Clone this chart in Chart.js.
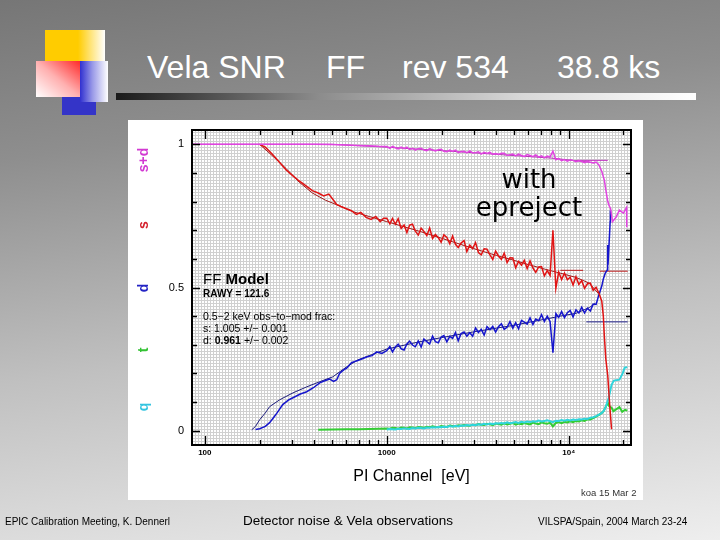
<!DOCTYPE html>
<html>
<head>
<meta charset="utf-8">
<script src="https://cdn.jsdelivr.net/npm/chart.js@4.4.1/dist/chart.umd.min.js"></script>
<style>
  body { margin: 0; width: 720px; height: 540px; overflow: hidden; position: relative;
    background: linear-gradient(172deg, #767676 0%, #8e8e8e 25%, #c0c0c0 60%, #eeeeee 100%);
    font-family: "Liberation Sans", Arial, sans-serif; }
  .abs { position: absolute; white-space: nowrap; line-height: 1; }
  .title { color: #fff; font-size: 32px; top: 51px; }
  .panel { position: absolute; left: 128px; top: 120px; width: 515px; height: 380px; background: #fff; }
  canvas { position: absolute; left: 0; top: 0; }
  .over { z-index: 2; }
  .rot { position: absolute; font-size: 14px; font-weight: bold; line-height: 1;
    transform: translate(-50%, -50%) rotate(-90deg); }
  .foot { font-size: 10px; color: #000; top: 517px; }
</style>
</head>
<body>
<!-- decoration -->
<div class="abs" style="left:62px;top:97px;width:34px;height:18px;background:#3434c8"></div>
<div class="abs" style="left:45px;top:30px;width:60px;height:32px;background:linear-gradient(to right,#ffcc00 0%,#ffcc00 55%,#ffffff 100%)"></div>
<div class="abs" style="left:36px;top:61px;width:44px;height:36px;background:linear-gradient(to bottom left,#ff2a2a 0%,#ffb0b0 50%,#ffffff 100%)"></div>
<div class="abs" style="left:80px;top:61px;width:28px;height:41px;background:linear-gradient(to right,#3030d0 0%,#9a9ae8 45%,#ffffff 100%)"></div>
<div class="abs" style="left:116px;top:93px;width:580px;height:7px;background:linear-gradient(to right,#1a1a1a 0%,#8c8c8c 35%,#d8d8d8 70%,#ffffff 100%)"></div>

<div class="abs title" style="left:147px">Vela SNR</div>
<div class="abs title" style="left:326px">FF</div>
<div class="abs title" style="left:402px">rev 534</div>
<div class="abs title" style="left:557px">38.8 ks</div>

<div class="panel"></div>

<canvas id="c" width="720" height="540"></canvas>

<!-- texts over the plot -->
<div class="rot over" style="left:143px;top:160px;color:#d23ad2">s+d</div>
<div class="rot over" style="left:143px;top:225px;color:#d4202c">s</div>
<div class="rot over" style="left:143px;top:288px;color:#2424c4">d</div>
<div class="rot over" style="left:143px;top:350px;color:#34c234">t</div>
<div class="rot over" style="left:143px;top:407px;color:#34c4e0">q</div>

<div class="abs over" style="left:473px;top:166px;width:112px;text-align:center;font-family:'DejaVu Sans';font-size:26px">with</div>
<div class="abs over" style="left:469px;top:194px;width:120px;text-align:center;font-family:'DejaVu Sans';font-size:26px">epreject</div>

<div class="abs over" style="left:203px;top:271px;font-size:15px">FF <b>Model</b></div>
<div class="abs over" style="left:203px;top:289px;font-size:10px;font-weight:bold">RAWY = 121.6</div>
<div class="abs over" style="left:203px;top:311px;font-size:10.5px">0.5−2 keV obs−to−mod frac:</div>
<div class="abs over" style="left:203px;top:323px;font-size:10.5px">s: 1.005 +/− 0.001</div>
<div class="abs over" style="left:203px;top:335px;font-size:10.5px">d: <b>0.961</b> +/− 0.002</div>

<div class="abs over" style="left:581px;top:488px;font-size:9.5px;color:#333">koa 15 Mar 2</div>

<div class="abs foot" style="left:5px">EPIC Calibration Meeting, K. Dennerl</div>
<div class="abs foot" style="left:243px;top:514px;font-size:13.5px">Detector noise &amp; Vela observations</div>
<div class="abs foot" style="left:538px">VILSPA/Spain, 2004 March 23-24</div>

<script>
// axis ticks
const xLabelTicks = [100, 1000, 10000];
const xTickLabels = ["100", "1000", "10⁴"];
const xMinorTicks = [100, 200, 300, 400, 500, 600, 700, 800, 900,
  1000, 2000, 3000, 4000, 5000, 6000, 7000, 8000, 9000, 10000, 20000];
const yLabelTicks = [0, 0.5, 1];
const yTickLabels = ["0", "0.5", "1"];
const yMinorTicks = [0, 0.1, 0.2, 0.3, 0.4, 0.5, 0.6, 0.7, 0.8, 0.9, 1];

// common energy grid 1-15 keV (PI channel, eV)
const gridE = [1000, 1040, 1075, 1115, 1155, 1200, 1245, 1290, 1335, 1385, 1435, 1490, 1545, 1600, 1660, 1720,
  1785, 1850, 1920, 1990, 2060, 2140, 2220, 2300, 2385, 2470, 2560, 2660, 2755, 2860, 2965, 3075, 3190, 3305,
  3430, 3555, 3690, 3825, 3965, 4110, 4265, 4420, 4585, 4755, 4930, 5110, 5300, 5500, 5700, 5910, 6130, 6360,
  6590, 6840, 7090, 7350, 7620, 7900, 8190, 8500, 8810, 9140, 9480, 9830, 10190, 10570, 10960, 11370, 11790,
  12220, 12680, 13150, 13630, 14140, 14660, 15200];

// s+d (magenta)
const sdLowE = [85, 200, 300, 400, 500, 600, 700, 800, 900];
const sdLowV = [1.0, 1.0, 1.0, 1.0, 0.999, 0.998, 0.996, 0.995, 0.993];
const sdGridV = [.992, .986, .993, .988, .984, .990, .985, .990, .982, .986, .980, .985, .986, .980, .978, .985,
  .980, .977, .981, .983, .976, .974, .980, .975, .980, .971, .975, .976, .970, .977, .970, .971, .974, .966,
  .972, .968, .972, .965, .968, .965, .969, .969, .961, .964, .966, .960, .966, .961, .957, .964, .961, .957,
  .963, .955, .960, .953, .959, .956, .976, .946, .950, .943, .947, .941, .946, .944, .939, .943, .940,
  .936, .941, .937, .935, .938, .928, .905];
const sdTailE = [15700, 16000, 16400, 16700, 17000, 17400, 18200, 19000, 20000, 20800, 20850];
const sdTailV = [0.875, 0.84, 0.80, 0.785, 0.775, 0.73, 0.745, 0.77, 0.76, 0.78, 0.71];
const sdModE = [85, 500, 1000, 2000, 4000, 8000, 12000, 14000];
const sdModV = [1.0, 1.0, 0.99, 0.978, 0.965, 0.952, 0.94, 0.935];
const sdBarE = [11000, 16400];
const sdBarV = [0.944, 0.944];

// s (red)
const sLowE = [200, 215, 235, 255, 280, 305, 330, 360, 390, 420, 450, 480, 505, 530, 560, 600, 640, 680, 720, 770, 820, 870, 920, 960];
const sLowV = [1.0, 0.99, 0.965, 0.94, 0.91, 0.89, 0.872, 0.855, 0.838, 0.83, 0.82, 0.826, 0.808, 0.79, 0.783, 0.775,
  0.768, 0.755, 0.762, 0.745, 0.738, 0.748, 0.73, 0.742];
const sGridV = [.742, .722, .741, .721, .740, .706, .718, .692, .718, .721, .697, .683, .707, .696, .681, .708,
  .671, .685, .674, .658, .684, .675, .653, .680, .651, .640, .655, .664, .626, .648, .636, .657, .622, .614,
  .635, .634, .614, .598, .627, .610, .598, .620, .587, .604, .603, .569, .591, .578, .595, .566, .593, .568,
  .553, .572, .573, .541, .559, .542, .700, .497, .554, .528, .550, .527, .536, .509, .538, .511, .524,
  .497, .513, .515, .490, .501, .480, .452];
const sTailE = [15500, 15700, 16000, 16400, 16800, 17200];
const sTailV = [0.40, 0.33, 0.25, 0.19, 0.09, 0.005];
const sModE = [200, 240, 280, 330, 390, 460, 550, 650, 800, 1000, 1500, 2000, 3000, 4000, 5000, 6000, 7500, 9000, 11000, 13000, 14500];
const sModV = [1.0, 0.955, 0.915, 0.868, 0.83, 0.805, 0.785, 0.765, 0.748, 0.73, 0.697, 0.672, 0.636, 0.612, 0.595,
  0.58, 0.563, 0.55, 0.535, 0.515, 0.48];
const sBarE = [14800, 21100];
const sBarV = [0.557, 0.557];
const sBar2E = [9000, 12000];
const sBar2V = [0.56, 0.56];

// d (blue)
const dLowE = [190, 200, 215, 227, 240, 250, 268, 290, 305, 335, 363, 395, 428, 460, 486, 510, 531, 550, 580, 602,
  640, 693, 740, 780, 830, 880, 940];
const dLowV = [0.004, 0.007, 0.015, 0.028, 0.048, 0.063, 0.091, 0.108, 0.115, 0.128, 0.136, 0.15, 0.167, 0.175, 0.18,
  0.172, 0.178, 0.2, 0.212, 0.218, 0.238, 0.245, 0.252, 0.258, 0.262, 0.275, 0.27];
const dGridV = [.279, .294, .275, .292, .302, .286, .282, .303, .313, .299, .293, .313, .292, .320, .311, .303,
  .330, .311, .307, .327, .332, .310, .329, .322, .343, .314, .339, .345, .330, .342, .330, .359, .343, .354,
  .334, .363, .353, .364, .344, .363, .373, .354, .361, .381, .358, .377, .356, .385, .379, .372, .394, .371,
  .390, .384, .405, .381, .400, .381, .272, .409, .396, .416, .395, .412, .420, .397, .422, .411, .431,
  .411, .428, .418, .442, .441, .475, .505];
const dTailE = [15500, 15900, 16300, 16380, 16450, 16900, 16950];
const dTailV = [0.53, 0.551, 0.561, 0.648, 0.58, 0.73, 0.77];
const dModE = [181, 190, 200, 215, 227, 258, 305, 363, 428, 505, 602, 693, 800, 1000, 1500, 2000, 3000, 4000, 5000,
  6000, 7500, 9000, 11000, 13000, 14000];
const dModV = [0.003, 0.015, 0.038, 0.062, 0.084, 0.108, 0.132, 0.153, 0.171, 0.188, 0.223, 0.247, 0.262, 0.285,
  0.31, 0.325, 0.345, 0.358, 0.368, 0.378, 0.39, 0.40, 0.41, 0.43, 0.445];
const dBarE = [12500, 21100];
const dBarV = [0.38, 0.38];

// t (green)
const tLowE = [420, 500, 600, 700, 800, 900];
const tLowV = [0.003, 0.004, 0.005, 0.005, 0.006, 0.007];
const tGridV = [.008, .007, .010, .009, .007, .011, .010, .008, .012, .011, .009, .013, .012, .010, .014, .012,
  .015, .013, .012, .016, .015, .013, .018, .016, .015, .019, .017, .020, .018, .017, .021, .019, .023, .021,
  .020, .024, .022, .019, .025, .023, .021, .026, .022, .024, .027, .021, .025, .023, .027, .024, .022, .028,
  .025, .023, .029, .026, .024, .028, .015, .027, .030, .026, .031, .029, .033, .030, .034, .032, .036,
  .034, .040, .039, .044, .049, .055, .062];
const tTailE = [15600, 16000, 16400, 16700, 17200, 17600, 18300, 19000, 19700, 20400, 21000];
const tTailV = [0.07, 0.084, 0.098, 0.085, 0.08, 0.068, 0.075, 0.082, 0.066, 0.073, 0.07];

// q (cyan)
const qGridV = [.004, .006, .005, .004, .007, .006, .008, .007, .006, .009, .008, .010, .009, .008, .011, .010,
  .012, .011, .013, .012, .014, .013, .016, .014, .017, .015, .018, .017, .020, .018, .021, .019, .022, .021,
  .024, .022, .025, .023, .026, .025, .027, .025, .029, .026, .028, .030, .027, .031, .029, .032, .030, .033,
  .031, .035, .032, .034, .036, .033, .030, .035, .034, .037, .035, .038, .036, .039, .037, .040, .039,
  .042, .041, .045, .047, .051, .056, .062];
const qTailE = [15600, 16000, 16600, 17200, 17700, 19000, 19800, 20300, 21000];
const qTailV = [0.07, 0.084, 0.115, 0.16, 0.175, 0.178, 0.20, 0.22, 0.222];

// join (E, V) pairs into {x,y} points
function series() {
  const out = [];
  for (let k = 0; k < arguments.length; k += 2) {
    const e = arguments[k], v = arguments[k + 1];
    e.forEach((x, i) => out.push({ x: x, y: v[i] }));
  }
  return out;
}

function line(data, color, width) {
  return { data, borderColor: color, borderWidth: width, pointRadius: 0, tension: 0, fill: false };
}

const datasets = [
  line(series(sdLowE, sdLowV, gridE, sdGridV, sdTailE, sdTailV), "#e044e0", 1.5),
  line(series(sLowE, sLowV, gridE, sGridV, sTailE, sTailV), "#e01414", 1.5),
  line(series(dLowE, dLowV, gridE, dGridV, dTailE, dTailV), "#1616cc", 1.5),
  line(series(gridE, qGridV, qTailE, qTailV), "#30d4dc", 2),
  line(series(tLowE, tLowV, gridE, tGridV, tTailE, tTailV), "#34cc34", 2),
  line(series(sdBarE, sdBarV), "#c030c0", 1),
  line(series(sBarE, sBarV), "#b81818", 1),
  line(series(sBar2E, sBar2V), "#b81818", 1),
  line(series(dBarE, dBarV), "#20208a", 1),
  line(series(sdModE, sdModV), "#b030b0", 1),
  line(series(sModE, sModV), "#a01818", 1),
  line(series(dModE, dModV), "#1c1c7c", 1)
];

// halftone-like background of the plot
function makePattern(ctx) {
  const p = document.createElement("canvas");
  p.width = 3; p.height = 3;
  const g = p.getContext("2d");
  g.fillStyle = "#ffffff"; g.fillRect(0, 0, 3, 3);
  g.fillStyle = "#d0d0d0"; g.fillRect(0, 0, 3, 1); g.fillRect(0, 0, 1, 3);
  return ctx.createPattern(p, "repeat");
}

const framePlugin = {
  id: "frame",
  beforeDraw(chart) {
    const { ctx, chartArea: a } = chart;
    ctx.save();
    ctx.fillStyle = makePattern(ctx);
    ctx.fillRect(a.left, a.top, a.right - a.left, a.bottom - a.top);
    ctx.restore();
  },
  afterDraw(chart) {
    const { ctx, chartArea: a, scales: { x, y } } = chart;
    ctx.save();
    ctx.strokeStyle = "#000";
    ctx.lineWidth = 1.3;
    ctx.beginPath();
    xMinorTicks.forEach(v => {
      const px = Math.round(x.getPixelForValue(v)) + 0.5;
      const len = xLabelTicks.includes(v) ? 9 : 5;
      ctx.moveTo(px, a.bottom); ctx.lineTo(px, a.bottom - len);
      ctx.moveTo(px, a.top); ctx.lineTo(px, a.top + len);
    });
    yMinorTicks.forEach(v => {
      const py = Math.round(y.getPixelForValue(v)) + 0.5;
      const len = yLabelTicks.includes(v) ? 8 : 5;
      ctx.moveTo(a.left, py); ctx.lineTo(a.left + len, py);
      ctx.moveTo(a.right, py); ctx.lineTo(a.right - len, py);
    });
    ctx.stroke();
    ctx.lineWidth = 2;
    ctx.strokeRect(a.left, a.top, a.right - a.left, a.bottom - a.top);
    ctx.restore();
  }
};

new Chart(document.getElementById("c"), {
  type: "line",
  data: { datasets },
  options: {
    responsive: false,
    animation: false,
    layout: { padding: { left: 0, right: 89, top: 130, bottom: 0 } },
    plugins: { legend: { display: false }, tooltip: { enabled: false } },
    scales: {
      x: {
        type: "logarithmic", min: 85, max: 22000, bounds: "data",
        grid: { display: false, drawTicks: false }, border: { display: false },
        afterBuildTicks: s => { s.ticks = xLabelTicks.map(v => ({ value: v })); },
        afterFit: s => { s.height = 95; },
        ticks: {
          autoSkip: false, maxRotation: 0, padding: 3, color: "#000",
          font: { family: "Liberation Sans", size: 8, weight: "bold" },
          callback: v => xTickLabels[xLabelTicks.indexOf(v)]
        },
        title: {
          display: true, text: "PI Channel  [eV]", color: "#000",
          font: { family: "Liberation Sans", size: 16 }, padding: { top: 0, bottom: 54 }
        }
      },
      y: {
        min: -0.05, max: 1.05, bounds: "data",
        grid: { display: false, drawTicks: false }, border: { display: false },
        afterBuildTicks: s => { s.ticks = yLabelTicks.map(v => ({ value: v })); },
        afterFit: s => { s.width = 192; },
        ticks: {
          padding: 8, color: "#000",
          font: { family: "Liberation Sans", size: 11 },
          callback: v => yTickLabels[yLabelTicks.indexOf(v)]
        }
      }
    }
  },
  plugins: [framePlugin]
});
</script>
</body>
</html>
